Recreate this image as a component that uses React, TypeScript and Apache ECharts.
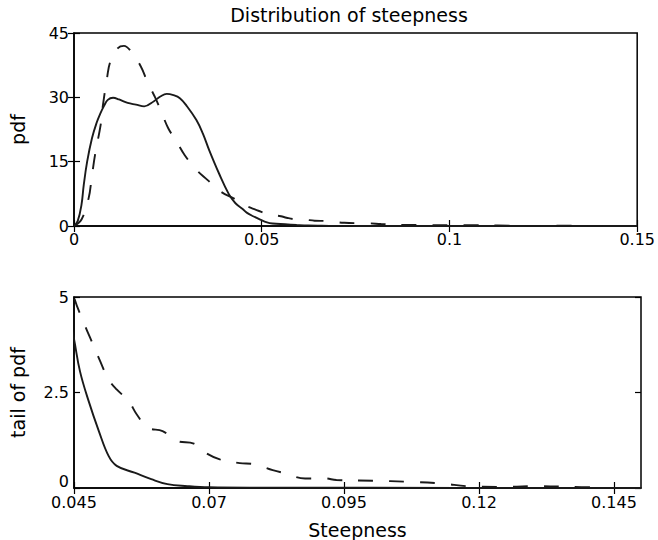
import React, { useEffect, useRef } from "react";
import * as echarts from "echarts";

// Steepness values (x) and pdf values (y)
const solidX = [0, 0.001, 0.002, 0.0026, 0.0035, 0.0048, 0.006, 0.007, 0.008, 0.009, 0.0104, 0.012, 0.0143, 0.0165, 0.0187, 0.0213, 0.023, 0.0247, 0.0265, 0.0282, 0.03, 0.0326, 0.0343, 0.036, 0.0386, 0.0412, 0.043, 0.045, 0.0461, 0.0477, 0.0496, 0.0514, 0.0529, 0.0562, 0.0593, 0.0623, 0.066, 0.07, 0.08, 0.1, 0.15];
const solidY = [0, 1.2, 5, 9.6, 15, 20.5, 24, 26.2, 28, 29.4, 29.9, 29.5, 28.7, 28.3, 27.9, 29.1, 30.2, 30.8, 30.5, 29.8, 28, 24.7, 21.6, 17.7, 12.3, 7.5, 5.3, 3.9, 3.06, 2.28, 1.49, 0.84, 0.58, 0.4, 0.23, 0.1, 0.05, 0.02, 0.01, 0.005, 0];

const dashedX = [0, 0.002, 0.0039, 0.0047, 0.0056, 0.0071, 0.0076, 0.0088, 0.0097, 0.0117, 0.0133, 0.0152, 0.0178, 0.0195, 0.0217, 0.0234, 0.0251, 0.0273, 0.0295, 0.0326, 0.0356, 0.0391, 0.043, 0.045, 0.0468, 0.048, 0.0493, 0.0505, 0.0511, 0.0529, 0.0551, 0.0566, 0.0587, 0.0614, 0.0641, 0.0672, 0.0696, 0.072, 0.0757, 0.0781, 0.0818, 0.0842, 0.0878, 0.0915, 0.0936, 0.1006, 0.1066, 0.1128, 0.1188, 0.125, 0.131, 0.137, 0.143];
const dashedY = [0, 1.5, 6.5, 11.2, 16.6, 23.6, 27.5, 34.5, 38.4, 41.5, 42, 40.7, 37.2, 33.7, 29.8, 26.3, 22.8, 19.7, 16.5, 13.1, 10.7, 8, 6.2, 5.0, 4.33, 3.93, 3.5, 3.1, 2.89, 2.58, 2.28, 1.93, 1.58, 1.49, 1.23, 1.16, 0.9, 0.75, 0.65, 0.63, 0.47, 0.38, 0.25, 0.25, 0.21, 0.19, 0.165, 0.12, 0.04, 0.03, 0.05, 0.03, 0.01];

const bottomTicks = [0.045, 0.07, 0.095, 0.12, 0.145];

const pairs = (xs: number[], ys: number[]) => xs.map((x, i) => [x, ys[i]]);

export default function App() {
  const ref = useRef<HTMLDivElement>(null);
  useEffect(() => {
    if (!ref.current) return;
    const chart = echarts.init(ref.current, null, { renderer: "svg" });
    const font = "DejaVu Sans";
    const tickStyle = { inside: true, length: 6, lineStyle: { color: "#000", width: 1.2 } };
    const lblStyle = { color: "#000", fontSize: 16, lineHeight: 13, fontFamily: font };
    const nameStyle = { color: "#000", fontSize: 19, fontFamily: font };
    const solidLine = { color: "#1a1a1a", width: 1.9, type: "solid" };
    const dashedLine = { color: "#1a1a1a", width: 1.9, type: [15, 16] };
    const line = (xi: number, yi: number, xs: number[], ys: number[], ls: any) => ({
      type: "line", xAxisIndex: xi, yAxisIndex: yi, data: pairs(xs, ys), showSymbol: false, symbol: "none",
      smooth: 0.4, lineStyle: ls, clip: true,
    });
    const option: any = {
      animation: false,
      backgroundColor: "#fff",
      textStyle: { fontFamily: font },
      grid: [
        { left: 65, top: 33, width: 576, height: 193, show: true, borderColor: "#000", borderWidth: 1.5, backgroundColor: "#fff" },
        { left: 65, top: 297, width: 576, height: 191, show: true, borderColor: "#000", borderWidth: 1.5, backgroundColor: "#fff" },
      ],
      graphic: [
        {
          type: "text",
          x: 349,
          y: 15,
          style: { text: "Distribution of steepness", fill: "#000", fontSize: 19, fontFamily: font, align: "center", verticalAlign: "middle" },
        },
      ],
      xAxis: [
        {
          gridIndex: 0, type: "value", position: "bottom", min: 0, max: 0.15, interval: 0.05,
          axisLine: { show: true, lineStyle: { color: "#000", width: 1.5 } },
          axisTick: tickStyle, splitLine: { show: false },
          axisLabel: { ...lblStyle, margin: 7 },
        },
        {
          gridIndex: 0, type: "value", position: "top", min: 0, max: 0.15, interval: 0.05,
          axisLine: { show: false }, axisTick: tickStyle, splitLine: { show: false }, axisLabel: { show: false },
        },
        {
          gridIndex: 1, type: "value", position: "bottom", min: 0.045, max: 0.15,
          name: "Steepness", nameLocation: "middle", nameGap: 32, nameTextStyle: nameStyle,
          axisLine: { show: true, lineStyle: { color: "#000", width: 1.5 } },
          axisTick: { ...tickStyle, customValues: bottomTicks }, splitLine: { show: false },
          axisLabel: { ...lblStyle, margin: 8, customValues: bottomTicks, formatter: (v: number) => String(+v.toFixed(3)) },
        },
        {
          gridIndex: 1, type: "value", position: "top", min: 0.045, max: 0.15,
          axisLine: { show: false }, axisTick: { ...tickStyle, customValues: bottomTicks }, splitLine: { show: false },
          axisLabel: { show: false, customValues: bottomTicks },
        },
      ],
      yAxis: [
        {
          gridIndex: 0, type: "value", position: "left", min: 0, max: 45, interval: 15,
          name: "pdf", nameLocation: "middle", nameGap: 47, nameRotate: 90, nameTextStyle: nameStyle,
          axisLine: { show: true, lineStyle: { color: "#000", width: 1.5 } },
          axisTick: tickStyle, splitLine: { show: false }, axisLabel: { ...lblStyle, margin: 5 },
        },
        {
          gridIndex: 0, type: "value", position: "right", min: 0, max: 45, interval: 15,
          axisLine: { show: false }, axisTick: tickStyle, splitLine: { show: false }, axisLabel: { show: false },
        },
        {
          gridIndex: 1, type: "value", position: "left", min: 0, max: 5, interval: 2.5,
          name: "tail of pdf", nameLocation: "middle", nameGap: 47, nameRotate: 90, nameTextStyle: nameStyle,
          axisLine: { show: true, lineStyle: { color: "#000", width: 1.5 } },
          axisTick: tickStyle, splitLine: { show: false },
          axisLabel: { ...lblStyle, margin: 5, verticalAlignMinLabel: "bottom" },
        },
        {
          gridIndex: 1, type: "value", position: "right", min: 0, max: 5, interval: 2.5,
          axisLine: { show: false }, axisTick: tickStyle, splitLine: { show: false }, axisLabel: { show: false },
        },
      ],
      series: [
        line(0, 0, solidX, solidY, solidLine),
        line(0, 0, dashedX, dashedY, dashedLine),
        line(2, 2, solidX, solidY, solidLine),
        line(2, 2, dashedX, dashedY, dashedLine),
      ],
    };
    chart.setOption(option);
    return () => chart.dispose();
  }, []);
  return <div ref={ref} style={{ position: "absolute", left: 0, top: 0, width: 658, height: 540 }} />;
}
